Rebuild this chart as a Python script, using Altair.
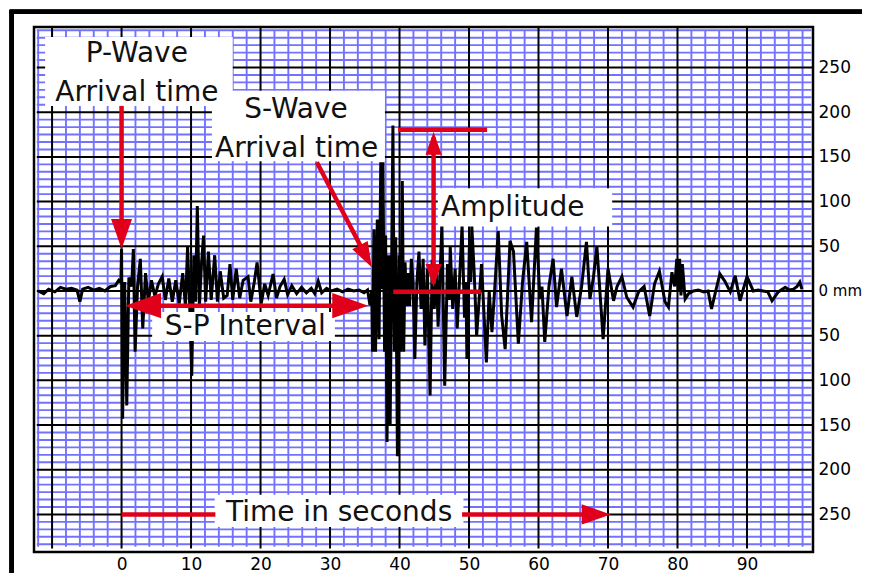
import altair as alt
import pandas as pd

# ---------------- data ----------------
trace_t = [
    -12.0, -11.2, -10.5, -9.6, -8.8, -8.0, -7.2, -6.4, -6.0, -5.6, -4.8, -4.0, -3.2, -2.4, -1.6, -0.9, -0.4, -0.1,
    0.0, 0.15, 0.45, 0.75, 1.05, 1.45, 1.7, 1.95, 2.3, 2.7, 3.05, 3.45, 3.85, 4.3, 4.8, 5.3, 5.85, 6.3, 6.8, 7.3,
    7.8, 8.3, 8.8, 9.2, 9.5, 9.8, 10.1, 10.4, 10.65, 10.9, 11.2, 11.5, 11.8,
    12.1, 12.5, 12.9, 13.4, 13.8, 14.2, 14.7, 15.2, 15.6, 16.0, 16.5, 17.0, 17.5, 18.2, 18.6, 19.1, 19.5, 20.1,
    20.6, 21.1, 21.8, 22.3, 22.8, 23.4, 23.9, 24.5, 25.2, 25.9, 26.6, 27.3, 27.8, 28.3, 28.8, 29.5, 30.2, 31.0,
    31.8, 32.6, 33.4, 34.2, 34.9, 35.4, 35.75, 36.0,
    36.12, 36.32, 36.55, 36.8, 37.05, 37.3, 37.45, 37.6, 37.85, 38.0, 38.2, 38.45, 38.65, 39.05, 39.25, 39.45,
    39.7, 39.95, 40.15, 40.4, 40.6, 40.8, 41.0, 41.2, 41.45, 41.7, 41.95, 42.2, 42.5, 42.8, 43.1, 43.4, 43.65,
    44.0, 44.4, 44.7, 45.0, 45.3, 45.55, 46.1, 46.5, 46.9, 47.15, 47.3, 47.65, 48.0, 48.3, 48.65, 49.0, 49.35,
    49.55, 49.7, 50.05, 50.25, 50.4, 50.75, 51.1, 51.45, 51.8,
    52.5, 52.9, 53.3, 53.8,
    54.2, 54.7, 55.2, 55.9, 56.4, 57.1, 57.7, 58.3, 59.0, 59.7, 60.2, 60.5, 60.9, 61.5, 62.1, 62.6, 63.3, 64.1,
    64.8, 65.5, 66.2, 66.9, 67.4, 67.9, 68.4, 69.3, 70.0, 70.8, 71.3, 72.0, 72.7, 73.6, 74.4, 75.2, 76.0, 76.7,
    77.4, 78.2, 78.7, 79.2, 79.6, 79.9, 80.1, 80.3, 80.5, 80.7, 81.1, 81.6, 82.3, 83.0, 83.8, 84.4, 84.9, 85.5,
    86.1, 86.8, 87.6, 88.3, 89.0, 89.5, 90.0, 90.9, 91.6, 92.3, 93.0, 93.6, 94.5, 95.5, 96.1, 96.7, 97.2, 97.6,
    97.9,
]
trace_amp = [
    0, -3, 2, -1, 4, 2, 3, 1, -12, 2, 4, 1, 3, 0, 5, 6, 12, 10,
    47, -143, 10, -128, 15, 5, 47, -68, 5, 36, -42, 20, -12, 12, -6, 8, 16, -10, 14, -12,
    12, -14, 20, -18, 50, -15, -95, 40, -12, 95, -18, 30, 62,
    -12, 44, -10, 40, -12, 22, -8, -5, 30, -10, 25, -8, 12, 16, -12, 10, 32, -14,
    8, -5, 19, -8, 5, 13, -4, 6, -3, 4, -2, 3, -3, 11, -2, 3, 0, 2,
    -1, 2, 0, 1, -2, 1, -16, 0,
    -68, 69, -68, 80, -54, 144, 2, 144, -68, 62, -169, 40, -150, 185, -68, 60,
    -185, 40, -68, 123, -68, 32, -17, 20, -17, 36, 10, -76, 10, 44, -20, 36, -61,
    25, -117, 35, -20, 30, -40, 73, -106, 30, -10, 50, -20, 25, -42, 15, 73, -30,
    10, -76, 50, 10, 73, 20, -50, -10, 30,
    -80, 0, -46, 15,
    67, -28, -65, 56, 44, -59, 10, 55, -35, 71, -9, 5, -57, 5, 36, -18, 25, -28,
    16, -29, 5, 55, -9, 15, 50, -54, 25, -11, 5, 16, -7, -18, -1, 5, -28, 8,
    22, -12, -18, 21, 5, 36, 0, 36, -5, 30, -9, -3, 0, 1, -1, 0, -20, 0,
    19, 11, -1, 17, -11, 3, 16, 0, 1, 0, -1, -11, -1, 4, 1, 2, 5, 10,
    2,
]

x_tick_labels = [0, 10, 20, 30, 40, 50, 60, 70, 80, 90]
y_tick_labels = [-250, -200, -150, -100, -50, 0, 50, 100, 150, 200, 250]

label_text = ["P-Wave", "Arrival time", "S-Wave", "Arrival time", "Amplitude", "S-P Interval", "Time in seconds"]
label_t = [2.2, 2.2, 25.1, 25.2, 56.3, 17.8, 31.3]
label_amp = [256, 212, 194, 150, 84, -49, -257]

box_t1 = [-11.0, 13.0, 45.5, 4.4, 13.4]
box_t2 = [16.0, 37.9, 70.6, 30.7, 49.2]
box_a1 = [207, 145, 72, -56, -264]
box_a2 = [284, 224, 115, -23.5, -228]

seg_t1 = [0.0, 28.1, 44.9, 39.8, 39.1, 2.5, 0.0, 49.0]
seg_t2 = [0.0, 35.0, 44.9, 52.6, 51.7, 33.5, 13.5, 68.5]
seg_a1 = [207, 144, 172, 180.4, -0.8, -16.4, -250, -250]
seg_a2 = [78, 41.4, 8, 180.4, -0.8, -16.4, -250, -250]

head_t = [0.0, 36.0, 44.9, 44.9, 0.5, 35.5, 70.4]
head_amp = [47, 26.5, 178, 4.5, -16.4, -16.4, -250]
head_angle = [0, 332, 180, 0, 90, 270, 270]
head_size = [900, 625, 529, 529, 1296, 1296, 841]

# ---------------- layout ----------------
W, H = 779, 525
X_DOMAIN = [-12.6, 99.5]
Y_DOMAIN = [-292, 295.3]
FONT = "DejaVu Sans"
RED = "#e0001a"
BLUE = "#7272ff"
HEAD = "M0,0 L-0.7,-2 L0.7,-2 Z"

xscale = alt.Scale(domain=X_DOMAIN, nice=False, zero=False)
yscale = alt.Scale(domain=Y_DOMAIN, nice=False, zero=False)

x_axis = alt.Axis(values=x_tick_labels, title=None, ticks=False, domain=False, grid=False,
                  labelFont=FONT, labelFontSize=17, labelColor="black", labelPadding=4,
                  labelFlush=False)
y_axis = alt.Axis(orient="right", values=y_tick_labels, title=None, ticks=False, domain=False,
                  grid=False, labelFont=FONT,
                  labelFontSize={"condition": {"test": "datum.value == 0", "value": 15},
                                 "value": 17},
                  labelColor="black",
                  labelPadding=5, labelFlush=False, labelAlign="left", labelBaseline="middle",
                  labelExpr="datum.value == 0 ? '0 mm' : '' + abs(datum.value)")


def xs(field):
    return alt.X(field, type="quantitative", scale=xscale, axis=x_axis)


def ys(field):
    return alt.Y(field, type="quantitative", scale=yscale, axis=y_axis)


minor_v = pd.DataFrame({"t": [v for v in range(-12, 99, 2) if v % 10 != 0]})
minor_v["y1"] = -286
minor_v["y2"] = 291.7
major_v = pd.DataFrame({"t": list(range(-10, 91, 10))})
major_v["y1"] = -288
major_v["y2"] = 295.3
minor_h = pd.DataFrame({"a": [k * 50 / 6 for k in range(-34, 36) if k % 6 != 0]})
minor_h["x1"] = -12.2
minor_h["x2"] = 99.3
major_h = pd.DataFrame({"a": list(range(-250, 251, 50))})
major_h["x1"] = -12.2
major_h["x2"] = 99.5

trace = pd.DataFrame({"t": trace_t, "amp": trace_amp, "i": range(len(trace_t))})
labels = pd.DataFrame({"label": label_text, "t": label_t, "a": label_amp})
boxes = pd.DataFrame({"x1": box_t1, "x2": box_t2, "y1": box_a1, "y2": box_a2})
segs = pd.DataFrame({"t1": seg_t1, "t2": seg_t2, "a1": seg_a1, "a2": seg_a2})
heads = pd.DataFrame({"t": head_t, "a": head_amp, "angle": head_angle, "size": head_size})

l_minor_v = alt.Chart(minor_v).mark_rule(color=BLUE, strokeWidth=1.9).encode(
    x=xs("t"), y=ys("y1"), y2="y2")
l_minor_h = alt.Chart(minor_h).mark_rule(color=BLUE, strokeWidth=1.9).encode(
    y=ys("a"), x=xs("x1"), x2="x2")
l_major_v = alt.Chart(major_v).mark_rule(color="black", strokeWidth=2).encode(
    x=xs("t"), y=ys("y1"), y2="y2")
l_major_h = alt.Chart(major_h).mark_rule(color="black", strokeWidth=2).encode(
    y=ys("a"), x=xs("x1"), x2="x2")
l_trace = alt.Chart(trace).mark_line(color="black", strokeWidth=3, strokeJoin="miter").encode(
    x=xs("t"), y=ys("amp"), order="i:Q")
l_boxes = alt.Chart(boxes).mark_rect(color="white", opacity=1).encode(
    x=xs("x1"), x2="x2", y=ys("y1"), y2="y2")
l_text = alt.Chart(labels).mark_text(font=FONT, fontSize=28, color="#111111", align="center",
                                     baseline="alphabetic").encode(
    x=xs("t"), y=ys("a"), text="label:N")
l_segs = alt.Chart(segs).mark_rule(color=RED, strokeWidth=4.5).encode(
    x=xs("t1"), x2="t2", y=ys("a1"), y2="a2")
l_heads = alt.Chart(heads).mark_point(shape=HEAD, filled=True, color=RED, opacity=1,
                                      strokeWidth=0).encode(
    x=xs("t"), y=ys("a"),
    angle=alt.Angle("angle:Q", scale=None),
    size=alt.Size("size:Q", scale=None))
l_frame_v = alt.Chart(heads).mark_rule(color="black", strokeWidth=4).encode(
    x=alt.value(-22.3), y=alt.value(-15.3), y2=alt.value(H + 80))
l_frame_h = alt.Chart(heads).mark_rule(color="black", strokeWidth=4).encode(
    y=alt.value(-15.3), x=alt.value(-24.3), x2=alt.value(W + 90))

chart = alt.layer(
    l_minor_v, l_minor_h, l_major_v, l_major_h, l_trace, l_boxes, l_text, l_segs, l_heads,
    l_frame_v, l_frame_h,
).properties(
    width=W, height=H,
    padding={"left": 26, "top": 19, "right": 49, "bottom": 21},
    autosize=alt.AutoSizeParams(type="none"),
    background="white",
).configure_view(stroke="black", strokeWidth=2.5)

chart.save("out.html", embed_options={"renderer": "svg", "actions": False})
